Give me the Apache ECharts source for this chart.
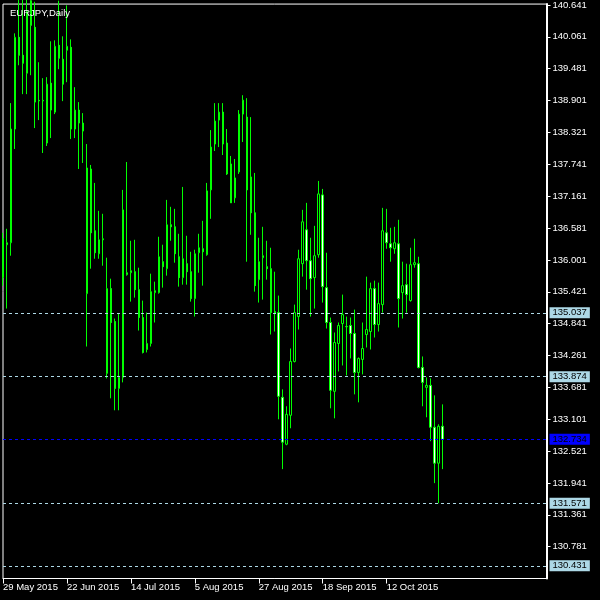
<!DOCTYPE html>
<html>
<head>
<meta charset="utf-8">
<style>
  html, body { margin: 0; padding: 0; background: #000; }
  #chart { width: 600px; height: 600px; }
</style>
<script src="https://cdn.jsdelivr.net/npm/echarts@6/dist/echarts.min.js"></script>
</head>
<body>
<div id="chart"></div>
<script>
// EURJPY daily candles, 29 May 2015 onwards
const opens = [
  135.678, 136.277, 136.313, 138.383, 140.053, 139.726, 139.399, 140.720, 140.234, 138.905,
  138.895, 138.128, 139.218, 138.691, 139.907, 139.654, 139.817, 139.871, 138.383, 138.728,
  138.492, 135.387, 137.656, 136.531, 136.113, 136.367, 133.935, 135.478, 134.879, 133.662,
  133.862, 135.732, 135.768, 135.786, 135.459, 134.951, 134.370, 134.479, 135.405, 135.405,
  135.968, 135.841, 136.640, 136.603, 136.058, 135.678, 135.932, 135.786, 135.296, 136.131,
  136.204, 136.095, 137.275, 138.110, 138.546, 138.691, 138.128, 137.747, 137.130, 137.602,
  138.655, 138.600, 137.511, 136.858, 135.641, 136.041, 135.877, 135.841, 135.060, 135.042,
  133.499, 132.645, 133.172, 134.152, 134.969, 135.932, 136.549, 135.986, 135.678, 136.095,
  137.184, 135.496, 134.861, 133.608, 134.479, 134.842, 134.788, 134.806, 134.661, 133.952,
  134.189, 134.643, 134.697, 135.478, 134.824, 135.187, 136.494, 136.295, 136.204, 136.295,
  135.405, 135.550, 135.260, 135.914, 135.932, 134.043, 133.680, 133.717, 132.954, 132.300,
  132.972
];
const closes = [
  136.386, 136.313, 138.383, 140.053, 139.726, 139.581, 140.525, 140.271, 138.873, 138.895,
  138.905, 139.200, 138.728, 139.889, 139.672, 139.200, 139.889, 138.383, 138.728, 138.492,
  138.346, 137.674, 136.494, 136.131, 136.367, 136.386, 135.478, 134.861, 133.662, 133.862,
  136.912, 135.768, 135.804, 135.459, 134.951, 134.316, 134.479, 135.423, 135.441, 136.058,
  135.877, 136.640, 136.603, 136.113, 135.678, 136.022, 135.786, 135.296, 136.113, 136.222,
  136.149, 137.257, 138.055, 138.528, 138.691, 138.110, 137.566, 137.039, 137.493, 138.655,
  138.909, 137.275, 136.858, 135.532, 135.968, 136.077, 135.841, 135.042, 135.024, 133.517,
  132.682, 133.190, 134.152, 135.042, 136.022, 136.694, 135.986, 135.659, 136.077, 137.202,
  135.514, 134.861, 133.626, 134.497, 134.806, 135.005, 134.784, 134.661, 133.952, 134.207,
  134.388, 134.733, 135.478, 134.824, 135.205, 136.531, 136.313, 136.222, 136.313, 135.296,
  135.532, 135.369, 135.914, 135.950, 134.043, 133.771, 133.717, 132.954, 132.300, 132.972,
  132.734
];
const lows = [
  135.532, 135.115, 136.077, 138.020, 139.544, 139.018, 139.018, 139.363, 138.401, 138.546,
  137.947, 138.074, 138.219, 138.655, 139.472, 138.891, 139.236, 138.201, 138.219, 137.656,
  137.765, 134.424, 135.841, 136.022, 136.022, 135.895, 133.844, 133.481, 133.263, 133.263,
  133.771, 135.714, 135.241, 135.314, 134.715, 134.298, 134.316, 134.424, 134.861, 135.387,
  135.496, 135.714, 136.349, 135.950, 135.514, 135.550, 135.550, 135.241, 134.969, 135.768,
  135.532, 136.077, 136.749, 137.983, 138.055, 137.910, 137.547, 137.039, 137.039, 137.566,
  138.147, 135.968, 136.458, 135.423, 135.224, 135.278, 135.641, 134.643, 134.697, 133.099,
  132.192, 132.627, 132.936, 134.134, 134.733, 135.696, 135.459, 134.969, 135.115, 136.041,
  135.224, 134.751, 133.299, 133.117, 133.970, 134.079, 133.898, 134.207, 133.553, 133.408,
  133.916, 134.406, 134.370, 134.588, 134.697, 135.042, 136.204, 135.968, 136.113, 134.770,
  134.933, 135.042, 135.241, 135.859, 134.025, 133.336, 133.136, 132.700, 131.937, 131.571,
  132.192
];
const highs = [
  136.494, 136.567, 138.855, 140.125, 141.050, 140.780, 140.800, 140.850, 140.700, 139.599,
  139.309, 139.327, 139.980, 139.998, 140.720, 140.071, 140.634, 140.016, 139.145, 138.873,
  138.673, 138.110, 137.729, 137.402, 136.894, 136.840, 136.041, 135.659, 134.933, 135.024,
  137.275, 137.783, 136.349, 136.367, 135.859, 135.260, 135.042, 135.750, 135.605, 136.422,
  136.277, 137.093, 136.967, 136.930, 136.476, 137.329, 136.440, 136.149, 136.186, 136.476,
  136.712, 137.402, 138.364, 138.855, 138.855, 138.855, 138.383, 137.893, 137.838, 138.728,
  138.999, 138.945, 138.600, 137.584, 136.404, 136.603, 136.349, 136.222, 135.786, 135.351,
  133.644, 133.336, 134.388, 135.187, 136.186, 136.912, 137.039, 136.404, 136.621, 137.438,
  137.293, 136.131, 134.951, 134.679, 134.861, 135.369, 134.969, 134.951, 135.096, 134.225,
  134.861, 135.696, 135.587, 135.623, 135.587, 136.948, 136.930, 136.585, 136.603, 136.731,
  135.968, 135.932, 136.222, 136.386, 136.058, 134.243, 133.862, 133.844, 133.535, 133.008,
  133.371
];

// Dated labels shown under the time axis
const tickLabels = ['29 May 2015', '22 Jun 2015', '14 Jul 2015', '5 Aug 2015',
                    '27 Aug 2015', '18 Sep 2015', '12 Oct 2015'];

// Horizontal price levels and the current bid
const levelLines = [135.037, 133.874, 131.571, 130.431];
const bidLevel = 132.734;

// Trading-day categories (weekdays), with empty room to the right of the last bar
const MONTHS = ['Jan','Feb','Mar','Apr','May','Jun','Jul','Aug','Sep','Oct','Nov','Dec'];
const TOTAL_SLOTS = 137;
const categories = [];
{
  const d = new Date(Date.UTC(2015, 4, 29));
  while (categories.length < TOTAL_SLOTS) {
    const wd = d.getUTCDay();
    if (wd !== 0 && wd !== 6) {
      categories.push(d.getUTCDate() + ' ' + MONTHS[d.getUTCMonth()] + ' ' + d.getUTCFullYear());
    }
    d.setUTCDate(d.getUTCDate() + 1);
  }
}

const candles = opens.map((o, i) => [o, closes[i], lows[i], highs[i]]);

const FONT = 'Liberation Sans';
const LEVEL_COLOR = '#add8e6';
const BID_COLOR = '#0000ff';
const chart = echarts.init(document.getElementById('chart'), null, { renderer: 'canvas' });

const markData = levelLines.map(v => ({
  yAxis: v,
  lineStyle: { color: LEVEL_COLOR, type: [3, 3], width: 1, opacity: 1 },
  label: { backgroundColor: LEVEL_COLOR, color: '#000' }
}));
markData.push({
  yAxis: bidLevel,
  lineStyle: { color: BID_COLOR, type: [3, 3], width: 1, opacity: 1 },
  label: { backgroundColor: BID_COLOR, color: '#000' }
});

chart.setOption({
  animation: false,
  backgroundColor: '#000',
  title: {
    text: 'EURJPY,Daily',
    left: 5,
    top: 3,
    textStyle: { color: '#fff', fontSize: 9.5, fontWeight: 'normal', fontFamily: FONT }
  },
  grid: {
    left: 2.5, top: 2.5, width: 544, height: 576,
    show: true, borderColor: '#fff', borderWidth: 1, backgroundColor: '#000'
  },
  xAxis: {
    type: 'category',
    data: categories,
    boundaryGap: false,
    axisLine: { show: true, lineStyle: { color: '#fff', width: 1 } },
    axisTick: {
      show: true, length: 5,
      interval: (idx, val) => tickLabels.indexOf(val) >= 0,
      lineStyle: { color: '#fff' }
    },
    axisLabel: {
      interval: (idx, val) => tickLabels.indexOf(val) >= 0,
      align: 'left', margin: 4,
      color: '#fff', fontSize: 9.5, fontFamily: FONT
    },
    splitLine: { show: false }
  },
  yAxis: {
    type: 'value',
    position: 'right',
    min: 130.201,
    max: 140.658,
    interval: 0.58,
    axisLine: { show: true, lineStyle: { color: '#fff', width: 2 } },
    axisTick: { show: true, length: 4, lineStyle: { color: '#fff' } },
    axisLabel: {
      formatter: v => v.toFixed(3),
      showMinLabel: false, showMaxLabel: false,
      margin: 6, color: '#fff', fontSize: 9.5, fontFamily: FONT
    },
    splitLine: { show: false }
  },
  series: [{
    type: 'candlestick',
    data: candles,
    barWidth: 2,
    clip: true,
    itemStyle: {
      color: '#000', color0: '#fff',
      borderColor: '#00ff00', borderColor0: '#00ff00', borderWidth: 1
    },
    markLine: {
      silent: true,
      symbol: ['none', 'none'],
      animation: false,
      precision: 3,
      lineStyle: { color: LEVEL_COLOR, type: [3, 3], width: 1, opacity: 1 },
      label: {
        position: 'end', distance: 3,
        padding: [1, 3, 0, 3],
        fontSize: 9.5, fontFamily: FONT,
        formatter: p => Number(p.value).toFixed(3)
      },
      data: markData
    }
  }]
});
</script>
</body>
</html>
